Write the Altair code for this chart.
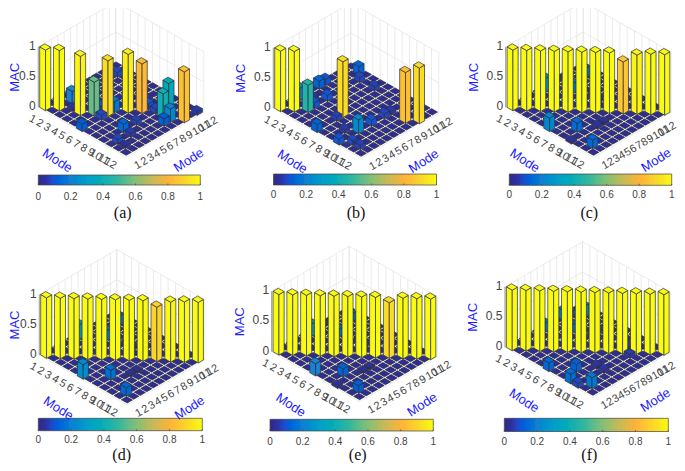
import altair as alt
import numpy as np
import pandas as pd

MODES = list(range(1, 13))
BACKGROUND_MAC = 0.02

# (reference mode, identified mode, MAC) for every bar that stands out of the floor
BARS_A = [(1,1,1.0),(2,2,1.0),(4,3,0.98),(5,4,0.56),(6,5,0.92),(7,7,0.97),(8,8,0.82),
          (9,11,0.38),(10,9,0.40),(11,9,0.22),(12,10,0.84),(12,12,0.06),(2,4,0.2),(6,4,0.08),
          (6,1,0.12),(9,4,0.14),(6,6,0.18),(2,11,0.08),(9,6,0.07),(10,4,0.06),(10,2,0.08),
          (11,2,0.04),(8,9,0.1),(9,9,0.08),(11,8,0.12),(5,5,0.1),(3,3,0.05),(7,10,0.05)]
BARS_B = [(1,1,1.0),(2,2,1.0),(3,3,0.45),(6,5,0.92),(2,12,0.13),(3,11,0.08),(1,7,0.13),
          (1,8,0.1),(1,4,0.2),(3,6,0.1),(3,4,0.1),(2,5,0.05),(5,11,0.07),(6,4,0.07),(6,1,0.13),
          (9,4,0.23),(9,6,0.1),(9,8,0.08),(9,9,0.06),(11,9,0.84),(12,10,0.92),(9,1,0.1),
          (10,2,0.08),(11,2,0.07),(8,3,0.06)]
BARS_C = [(1,1,1.0),(2,2,1.0),(3,3,1.0),(4,4,1.0),(5,5,1.0),(6,6,1.0),(7,7,1.0),(8,8,1.0),
          (9,9,0.86),(10,10,0.98),(11,11,1.0),(12,12,1.0),(6,1,0.22),(1,6,0.22),(8,3,0.15),
          (3,8,0.15),(11,2,0.14),(2,11,0.14),(9,5,0.05),(5,9,0.05),(9,6,0.04),(6,9,0.04),
          (9,1,0.04),(1,9,0.04)]
BARS_D = [(1,1,1.0),(2,2,1.0),(3,3,1.0),(4,4,1.0),(5,5,1.0),(6,6,1.0),(7,7,1.0),(8,8,1.0),
          (9,9,0.9),(10,10,0.99),(11,11,1.0),(12,12,1.0),(6,1,0.24),(1,6,0.24),(8,3,0.16),
          (3,8,0.16),(11,2,0.14),(2,11,0.14),(9,5,0.03),(5,9,0.03),(9,6,0.03),(6,9,0.03)]
BARS_E = [(1,1,1.0),(2,2,1.0),(3,3,1.0),(4,4,1.0),(5,5,1.0),(6,6,1.0),(7,7,1.0),(8,8,1.0),
          (9,9,0.92),(10,10,1.0),(11,11,1.0),(12,12,1.0),(6,1,0.2),(1,6,0.2),(8,3,0.13),
          (3,8,0.13),(11,2,0.12),(2,11,0.12),(9,5,0.03),(5,9,0.03),(9,6,0.03),(6,9,0.03),
          (9,1,0.04),(1,9,0.04)]
BARS_F = [(1,1,1.0),(2,2,1.0),(3,3,1.0),(4,4,1.0),(5,5,1.0),(6,6,1.0),(7,7,1.0),(8,8,1.0),
          (9,9,1.0),(10,10,1.0),(11,11,1.0),(12,12,1.0),(6,1,0.14),(1,6,0.14),(8,3,0.13),
          (3,8,0.13),(9,1,0.16),(1,9,0.16),(11,2,0.18),(2,11,0.18),(10,1,0.08),(1,10,0.08),
          (10,9,0.06),(9,10,0.06),(10,5,0.05),(5,10,0.05),(9,5,0.05),(5,9,0.05)]

ALL_BARS = [BARS_A, BARS_B, BARS_C, BARS_D, BARS_E, BARS_F]
CAPTIONS = ["(a)", "(b)", "(c)", "(d)", "(e)", "(f)"]
Z_TICKS = [0, 0.5, 1]
CBAR_TICKS = [0, 0.2, 0.4, 0.6, 0.8, 1]
CBAR_TICK_TEXT = ["0", "0.2", "0.4", "0.6", "0.8", "1"]

COLOR_STOPS = [0, .05, .1, .2, .3, .4, .5, .6, .7, .8, .9, 1]
COLOR_VALUES = ["#2f2a85", "#2a33a8", "#0f55d8", "#1a80d0", "#0a9fc8", "#12aeb4", "#3ab89a",
                "#85be78", "#c8b85a", "#fdb23a", "#f9d52a", "#f9fb10"]

# layout: floor left corner, colour-bar box, tick-label line, caption anchor
ORIGINS = [(38.3,107.3),(273.3,108.3),(505.7,107.3),(39.3,355),(271.7,351.7),(505,347.3)]
CBARS = [(38.3,200.3,175,185),(273.5,436.5,174,185),(509.3,671.7,174,185.3),
         (38.3,202.3,418.3,430.7),(270,433.3,419.3,431),(504.3,668.3,418.3,431.5)]
CBAR_LABEL_Y = [197, 195, 195, 440, 441.5, 441.5]
CAPTION_XY = [(122.7,213),(356,213),(589.3,213),(121.7,454.5),(357.7,454.5),(589.3,454.5)]
RIGHT_LABEL_SQUEEZE = [0, 0, 9, 0, 0, 9]   # keeps the last labels of (c), (f) on the page

IX, IY = 88/12, 50/12        # one mode along the first floor axis
JX, JY = 77.5/12, -45/12     # one mode along the second floor axis
ZU = 60.5                    # one unit of MAC
BAR_W = 0.8

def project(o, a, b, z=0.0):
    return o[0] + a*IX + b*JX, o[1] + a*IY + b*JY - z*ZU

polys, rules, texts, cbar = [], [], [], []
pid = 0

def add_poly(pts, v):
    global pid
    pts = np.array(pts)
    xs = np.unique(pts[:, 0])
    closed = np.vstack([pts, pts[:1]])
    ys_at = {x: [] for x in xs}
    for k in range(len(pts)):
        (x0, y0), (x1, y1) = closed[k], closed[k+1]
        for x in xs:
            if min(x0, x1) <= x <= max(x0, x1):
                if x0 == x1:
                    ys_at[x] += [y0, y1]
                else:
                    ys_at[x].append(y0 + (x-x0)/(x1-x0)*(y1-y0))
    for x in xs:
        polys.append(dict(p=pid, x=float(x), y=float(min(ys_at[x])), y2=float(max(ys_at[x])), v=v))
    pid += 1

def add_bar(o, i, j, v):
    g = (1-BAR_W)/2
    a0, a1, b0, b1 = i-1+g, i-g, j-1+g, j-g
    L, F, R, B = (a0,b0), (a1,b0), (a1,b1), (a0,b1)
    if v >= 0.03:
        add_poly([project(o,*L), project(o,*F), project(o,*F,v), project(o,*L,v)], v)
        add_poly([project(o,*F), project(o,*R), project(o,*R,v), project(o,*F,v)], v)
    add_poly([project(o,*L,v), project(o,*F,v), project(o,*R,v), project(o,*B,v)], v)

def add_rule(p0, p1, kind):
    rules.append(dict(x=p0[0], y=p0[1], x2=p1[0], y2=p1[1], kind=kind))

def add_text(x, y, t, kind, angle=0):
    texts.append(dict(x=x, y=y, t=t, kind=kind, angle=angle))

for n, o in enumerate(ORIGINS):
    # back walls
    for m in range(0, 13):
        add_rule(project(o, 0, m, 0), project(o, 0, m, 1), "wall")
        add_rule(project(o, m, 12, 0), project(o, m, 12, 1), "wall")
        add_rule(project(o, m, 0, 0), project(o, m, 12, 0), "wall")
        add_rule(project(o, 0, m, 0), project(o, 12, m, 0), "wall")
    for z in Z_TICKS:
        add_rule(project(o, 0, 0, z), project(o, 0, 12, z), "wall")
        add_rule(project(o, 0, 12, z), project(o, 12, 12, z), "wall")
    add_rule(project(o, 0, 0, 0), project(o, 0, 0, 1), "axis")
    # bars, far to near
    vals = {(i, j): BACKGROUND_MAC for i in MODES for j in MODES}
    vals.update({(i, j): v for i, j, v in ALL_BARS[n]})
    for (i, j) in sorted(vals, key=lambda c: (c[0]-c[1], c[0])):
        add_bar(o, i, j, vals[(i, j)])
    # tick labels
    for m in MODES:
        x, y = project(o, m-0.5, 0)
        add_text(x-7, y+11.5, str(m), "tickL", 30)
        x, y = project(o, 12, m-0.5)
        sq = RIGHT_LABEL_SQUEEZE[n]*(m-1)/11
        add_text(x+5.7-sq, y+11.5+sq*0.58, str(m), "tickR", 330)
    for z in Z_TICKS:
        add_text(o[0]-2.5, o[1]-z*ZU-1, str(z), "tickZ")
    add_text(o[0]+19, o[1]+53.5, "Mode", "mode", 33)
    add_text(o[0]+150.5, o[1]+53, "Mode", "mode", 327)
    add_text(max(o[0]-32, 14.5), o[1]-30, "MAC", "mode", 270)
    # colour bar
    x0, x1, y0, y1 = CBARS[n]
    for s in range(64):
        xa = x0+(x1-x0)*s/64
        cbar.append(dict(x=xa, x2=min(x1, xa+(x1-x0)/64+1), y=y0, y2=y1, v=(s+0.5)/64))
    add_rule((x0,y0),(x1,y0),"box"); add_rule((x0,y1),(x1,y1),"box")
    add_rule((x0,y0),(x0,y1),"box"); add_rule((x1,y0),(x1,y1),"box")
    for t, lab in zip(CBAR_TICKS, CBAR_TICK_TEXT):
        xt = x0+(x1-x0)*t
        add_rule((xt,y1),(xt,y1-1.5),"box")
        add_text(xt, CBAR_LABEL_Y[n], lab, "tickC")
    add_text(CAPTION_XY[n][0], CAPTION_XY[n][1], CAPTIONS[n], "caption")

X = alt.X("x:Q", axis=None, scale=alt.Scale(domain=[8, 677], nice=False, zero=False))
Y = alt.Y("y:Q", axis=None, stack=False, scale=alt.Scale(domain=[463, 8], nice=False, zero=False))
COLOR = alt.Color("v:Q", legend=None, scale=alt.Scale(domain=COLOR_STOPS, range=COLOR_VALUES))

def rule_layer(kind, color, w):
    d = pd.DataFrame([r for r in rules if r["kind"] == kind])
    return alt.Chart(d).mark_rule(color=color, strokeWidth=w).encode(X, Y, x2="x2:Q", y2="y2:Q")

def text_layer(kind, **kw):
    d = pd.DataFrame([t for t in texts if t["kind"] == kind])
    return alt.Chart(d).mark_text(**kw).encode(X, Y, text="t:N")

def angled_text_layer(kind, **kw):
    d = pd.DataFrame([t for t in texts if t["kind"] == kind])
    return alt.Chart(d).mark_text(**kw).encode(
        X, Y, text="t:N", angle=alt.Angle("angle:Q", scale=None))

bars = alt.Chart(pd.DataFrame(polys)).mark_area(stroke="#2c2c34", strokeWidth=0.7, opacity=1).encode(
    X, Y, y2="y2:Q", detail="p:N", color=COLOR)
bar_rects = alt.Chart(pd.DataFrame(cbar)).mark_rect().encode(X, x2="x2:Q", y=Y, y2="y2:Q", color=COLOR)

GRAY = "#444444"
chart = alt.layer(
    rule_layer("wall", "#e2e2e2", 0.7),
    rule_layer("axis", "#777777", 0.7),
    bars,
    bar_rects,
    rule_layer("box", "#444444", 0.7),
    angled_text_layer("tickL", font="Liberation Sans", fontSize=11, color=GRAY, align="right", baseline="middle"),
    angled_text_layer("tickR", font="Liberation Sans", fontSize=11, color=GRAY, align="left", baseline="middle"),
    text_layer("tickZ", font="Liberation Sans", fontSize=12, color=GRAY, align="right", baseline="middle"),
    text_layer("tickC", font="Liberation Sans", fontSize=10, color=GRAY, align="center", baseline="middle"),
    text_layer("caption", font="Liberation Serif", fontSize=16, color="#111111", align="center", baseline="middle"),
    angled_text_layer("mode", font="Liberation Sans", fontSize=13, color="#1a1aff", align="center", baseline="middle"),
).properties(width=669, height=455, padding=0,
             autosize=alt.AutoSizeParams(type="none")).configure_view(stroke=None).resolve_scale(color="shared")

chart.save("out.html", embed_options={"renderer": "svg", "actions": False})
